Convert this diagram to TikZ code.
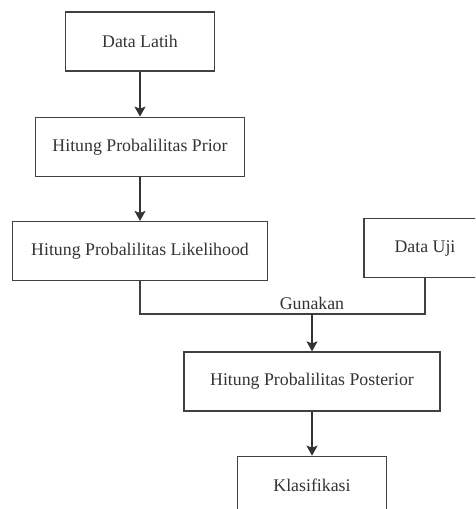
\documentclass[tikz,border=0pt]{standalone}
\usepackage{fontspec}
\setmainfont{Liberation Serif}
\usetikzlibrary{arrows.meta,positioning}

\tikzset{
  proc/.style={draw=black!75, line width=1.3pt, rectangle, minimum height=59pt,
    text=black!80, font=\fontsize{17.8}{20}\selectfont},
  flow/.style={draw=black!80, line width=1.3pt, -{Stealth[length=10pt,width=11pt,inset=2pt]}},
  merge/.style={draw=black!75, line width=1.3pt}
}

\begin{document}
\begin{tikzpicture}[x=1pt, y=1pt, node distance=44pt]
  \useasboundingbox (0,0) rectangle (475,-509);
  \clip (0,0) rectangle (475,-509);

  \node[proc, minimum width=149pt] (latih) at (140,-41.5) {Data Latih};
  \node[proc, minimum width=209pt] [below=45pt of latih] (prior) {Hitung Probalilitas Prior};
  \node[proc, minimum width=255pt] [below=of prior] (likeli) {Hitung Probalilitas Likelihood};
  \node[proc, minimum width=122pt] (uji) at (425,-248) {Data Uji};
  \node[proc, minimum width=256pt] (post) at (312,-381.5) {Hitung Probalilitas Posterior};
  \node[proc, minimum width=149pt] [below=of post] (klas) {Klasifikasi};

  % gabungan likelihood dan data uji
  \coordinate (gab) at (312,-314);
  \draw[merge] (likeli.south) |- (gab) -| (uji.south);
  \node[text=black!80, font=\fontsize{17.8}{20}\selectfont, above=1pt] (gunakan) at (gab) {Gunakan};

  \path[flow] (latih) -- (prior);
  \path[flow] (prior) -- (likeli);
  \path[flow] (gab) -- (post);
  \path[flow] (post) -- (klas);
\end{tikzpicture}
\end{document}
